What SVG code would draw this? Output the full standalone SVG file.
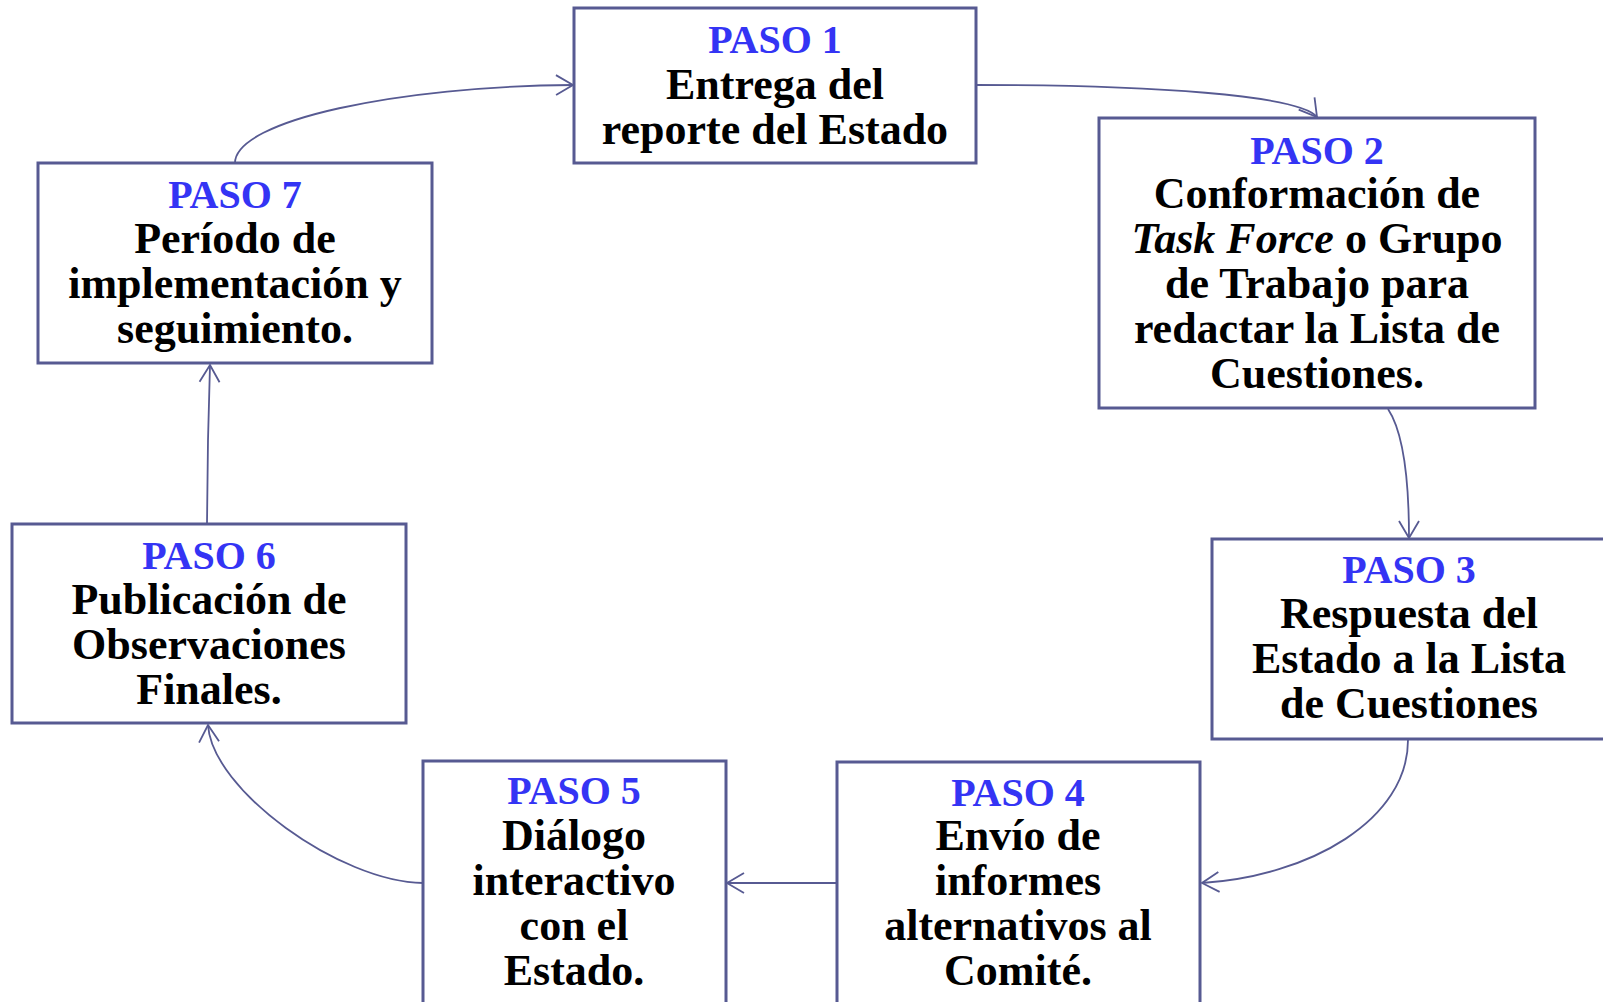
<svg xmlns="http://www.w3.org/2000/svg" width="1603" height="1002" viewBox="0 0 1603 1002">
<style>
.box{fill:#ffffff;stroke:#575a92;stroke-width:3}
.con{fill:none;stroke:#575a92;stroke-width:1.8}
.step{font-family:"Liberation Serif","DejaVu Serif",serif;font-weight:bold;font-size:40px;fill:#3434f4;text-anchor:middle}
.txt{font-family:"Liberation Serif","DejaVu Serif",serif;font-weight:bold;font-size:44px;fill:#000000;text-anchor:middle}
</style>
<defs>
<marker id="arr" markerUnits="userSpaceOnUse" markerWidth="24" markerHeight="24" viewBox="-20 -12 24 24" refX="0" refY="0" orient="auto">
<path d="M-17,-10 L0,0 L-17,10" fill="none" stroke="#575a92" stroke-width="1.8"/>
</marker>
</defs>
<rect width="1603" height="1002" fill="#ffffff"/>
<g id="connectors">
<path class="con" d="M976,85 C1150,85 1300,95 1317,117" marker-end="url(#arr)"/>
<path class="con" d="M1388,409 C1402,430 1409,470 1409,538" marker-end="url(#arr)"/>
<path class="con" d="M1408,740 C1408,820 1310,876 1202,883" marker-end="url(#arr)"/>
<path class="con" d="M837,883 L727,883" marker-end="url(#arr)"/>
<path class="con" d="M423,883 C340,882 212,790 208,725" marker-end="url(#arr)"/>
<path class="con" d="M207,524 L208,440 L210,365" marker-end="url(#arr)"/>
<path class="con" d="M235,163 C235,120 400,86 573,85" marker-end="url(#arr)"/>
</g>
<g id="paso1">
<rect class="box" x="574" y="8" width="402" height="155"/>
<text class="step" x="775" y="53">PASO 1</text>
<text class="txt" x="775" y="99">Entrega del</text>
<text class="txt" x="775" y="144">reporte del Estado</text>
</g>
<g id="paso2">
<rect class="box" x="1099" y="118" width="436" height="290"/>
<text class="step" x="1317" y="164">PASO 2</text>
<text class="txt" x="1317" y="208">Conformación de</text>
<text class="txt" x="1317" y="253"><tspan font-style="italic">Task Force</tspan> o Grupo</text>
<text class="txt" x="1317" y="298">de Trabajo para</text>
<text class="txt" x="1317" y="343">redactar la Lista de</text>
<text class="txt" x="1317" y="388">Cuestiones.</text>
</g>
<g id="paso3">
<rect class="box" x="1212" y="539" width="394" height="200"/>
<text class="step" x="1409" y="583">PASO 3</text>
<text class="txt" x="1409" y="628">Respuesta del</text>
<text class="txt" x="1409" y="673">Estado a la Lista</text>
<text class="txt" x="1409" y="718">de Cuestiones</text>
</g>
<g id="paso4">
<rect class="box" x="837" y="762" width="363" height="260"/>
<text class="step" x="1018" y="806">PASO 4</text>
<text class="txt" x="1018" y="850">Envío de</text>
<text class="txt" x="1018" y="895">informes</text>
<text class="txt" x="1018" y="940">alternativos al</text>
<text class="txt" x="1018" y="985">Comité.</text>
</g>
<g id="paso5">
<rect class="box" x="423" y="761" width="303" height="260"/>
<text class="step" x="574" y="804">PASO 5</text>
<text class="txt" x="574" y="850">Diálogo</text>
<text class="txt" x="574" y="895">interactivo</text>
<text class="txt" x="574" y="940">con el</text>
<text class="txt" x="574" y="985">Estado.</text>
</g>
<g id="paso6">
<rect class="box" x="12" y="524" width="394" height="199"/>
<text class="step" x="209" y="569">PASO 6</text>
<text class="txt" x="209" y="614">Publicación de</text>
<text class="txt" x="209" y="659">Observaciones</text>
<text class="txt" x="209" y="704">Finales.</text>
</g>
<g id="paso7">
<rect class="box" x="38" y="163" width="394" height="200"/>
<text class="step" x="235" y="208">PASO 7</text>
<text class="txt" x="235" y="253">Período de</text>
<text class="txt" x="235" y="298">implementación y</text>
<text class="txt" x="235" y="343">seguimiento.</text>
</g>
</svg>
